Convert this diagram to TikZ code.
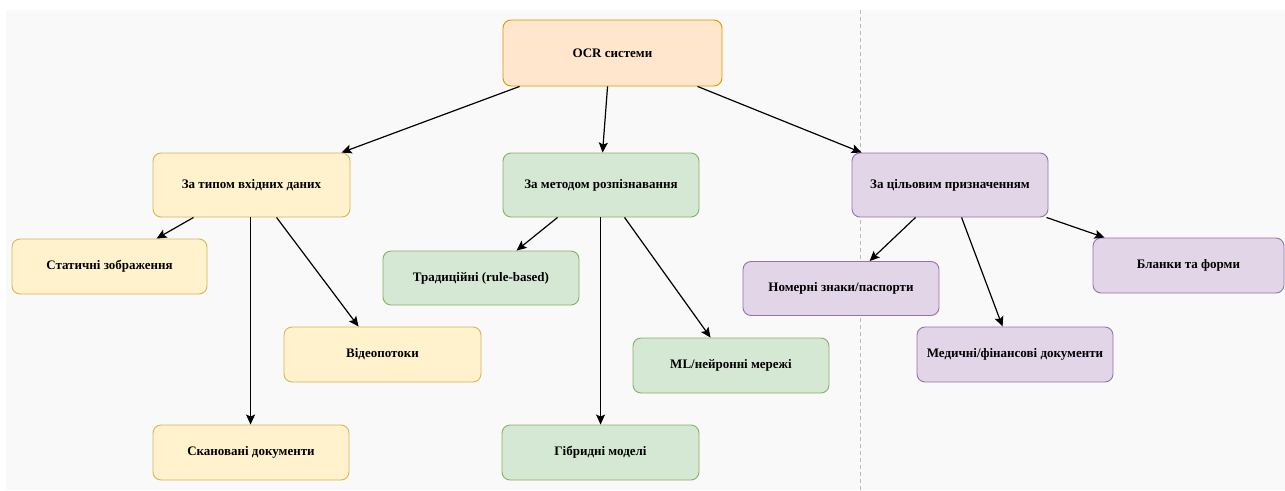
\documentclass[tikz,border=0pt]{standalone}
\usepackage{fontspec}
\setmainfont{Liberation Serif}
\usetikzlibrary{calc,arrows.meta}

\definecolor{canvas}{HTML}{F9F9F9}
\definecolor{orfill}{HTML}{FFE6CC}\definecolor{ordraw}{HTML}{D79B00}
\definecolor{yefill}{HTML}{FFF2CC}\definecolor{yedraw}{HTML}{D6B656}
\definecolor{grfill}{HTML}{D5E8D4}\definecolor{grdraw}{HTML}{82B366}
\definecolor{pufill}{HTML}{E1D5E7}\definecolor{pudraw}{HTML}{9673A6}
\definecolor{divider}{HTML}{BBBBBB}

\tikzset{
  box/.style={rounded corners=8pt, line width=0.9pt, inner sep=0pt,
    font=\fontsize{13}{15}\selectfont\bfseries, align=center},
  rootbox/.style={box, fill=orfill, draw=ordraw, minimum width=219pt, minimum height=66pt},
  inbox/.style={box, fill=yefill, draw=yedraw},
  methbox/.style={box, fill=grfill, draw=grdraw},
  goalbox/.style={box, fill=pufill, draw=pudraw},
  headsize/.style={minimum width=197pt, minimum height=64pt},
  leafsize/.style={minimum width=196pt, minimum height=55pt},
  link/.style={line width=1.2pt, -{Stealth[length=10pt,width=9pt,inset=2pt]}},
}

\begin{document}
\begin{tikzpicture}[x=1pt,y=-1pt]
  \useasboundingbox (0,0) rectangle (1285,490);
  % canvas and divider
  \fill[canvas] (6,10) rectangle (1285,490);
  \draw[divider, line width=0.9pt, dash pattern=on 4pt off 3pt] (860,10) -- (860,490);

  % root
  \node[rootbox] (ocr) at (612.5,53) {OCR системи};

  % category level
  \node[inbox, headsize] (typ) at (251.5,185) {За типом вхідних даних};
  \node[methbox, headsize, minimum width=196pt] (met) at (601,185) {За методом розпізнавання};
  \node[goalbox, headsize, minimum width=196pt] (cil) at (950,185) {За цільовим призначенням};

  % input types
  \node[inbox, leafsize, minimum width=195pt] (stat) at (109.5,266.5) {Статичні зображення};
  \node[inbox, leafsize, minimum width=197pt] (video) at (382.5,354.5) {Відеопотоки};
  \node[inbox, leafsize] (scan) at (251,452.5) {Скановані документи};

  % recognition methods
  \node[methbox, leafsize, minimum height=54pt] (trad) at (481,278) {Традиційні (rule-based)};
  \node[methbox, leafsize] (ml) at (731,365.5) {ML/нейронні мережі};
  \node[methbox, leafsize, minimum width=197pt] (hyb) at (600.5,452.5) {Гібридні моделі};

  % target purposes
  \node[goalbox, leafsize, minimum height=54pt] (nom) at (841,288.5) {Номерні знаки/паспорти};
  \node[goalbox, leafsize] (med) at (1015,354.5) {Медичні/фінансові документи};
  \node[goalbox, leafsize, minimum width=191pt] (blank) at (1188.5,265.5) {Бланки та форми};

  % connectors
  \draw[link] ($(ocr.south west)+(17,0)$) -- ($(typ.north west)+(189,0)$);
  \draw[link] ($(ocr.south west)+(105,0)$) -- ($(met.north west)+(100,0)$);
  \draw[link] ($(ocr.south west)+(195,0)$) -- ($(cil.north west)+(10,0)$);

  \draw[link] ($(typ.south west)+(41,0)$) -- ($(stat.north west)+(145,0)$);
  \draw[link] ($(typ.south west)+(98,0)$) -- ($(scan.north west)+(98,0)$);
  \draw[link] ($(typ.south west)+(124,0)$) -- ($(video.north west)+(75,0)$);

  \draw[link] ($(met.south west)+(55,0)$) -- ($(trad.north west)+(134,0)$);
  \draw[link] ($(met.south west)+(98,0)$) -- ($(hyb.north west)+(99,0)$);
  \draw[link] ($(met.south west)+(122,0)$) -- ($(ml.north west)+(78,0)$);

  \draw[link] ($(cil.south west)+(64,0)$) -- ($(nom.north west)+(127,0)$);
  \draw[link] ($(cil.south west)+(110,0)$) -- ($(med.north west)+(86,0)$);
  \draw[link] ($(cil.south east)+(-2,0)$) -- ($(blank.north west)+(12,0)$);
\end{tikzpicture}
\end{document}
